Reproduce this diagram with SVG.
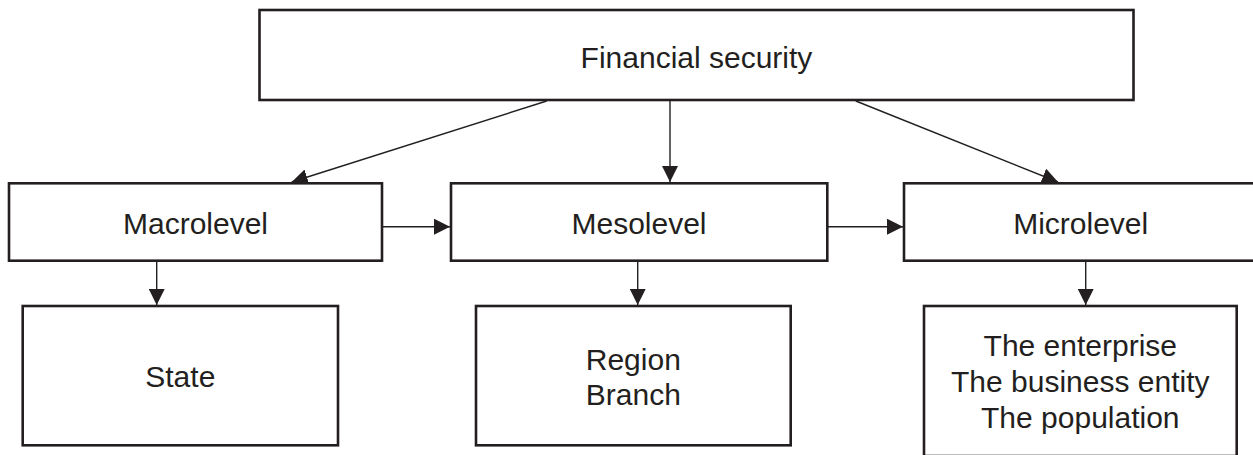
<svg xmlns="http://www.w3.org/2000/svg" width="1253" height="455" viewBox="0 0 1253 455">
  <style>
    .box { fill: #ffffff; stroke: #231f20; stroke-width: 2.6; }
    .lbl { font-family: "Liberation Sans", Arial, sans-serif; font-size: 30px; fill: #231f20; text-anchor: middle; }
    .conn { stroke: #231f20; stroke-width: 1.4; fill: none; marker-end: url(#head); }
  </style>
  <defs>
    <marker id="head" markerUnits="userSpaceOnUse" markerWidth="16" markerHeight="16" refX="16" refY="8" orient="auto">
      <path d="M0,0 L16,8 L0,16 z" fill="#231f20"/>
    </marker>
  </defs>
  <rect width="1253" height="455" fill="#ffffff"/>

  <g id="connectors">
    <line class="conn" x1="546.7" y1="101" x2="291.7" y2="182"/>
    <line class="conn" x1="670" y1="101" x2="670" y2="182"/>
    <line class="conn" x1="855.8" y1="101" x2="1058" y2="182"/>
    <line class="conn" x1="383" y1="226.7" x2="450" y2="226.7"/>
    <line class="conn" x1="828" y1="226.7" x2="903" y2="226.7"/>
    <line class="conn" x1="156.7" y1="262" x2="156.7" y2="305"/>
    <line class="conn" x1="637.7" y1="262" x2="637.7" y2="305"/>
    <line class="conn" x1="1085.7" y1="262" x2="1085.7" y2="305"/>
  </g>

  <g id="financial-security">
    <rect class="box" x="259.5" y="10" width="874" height="90"/>
    <text class="lbl" x="696.5" y="67.7">Financial security</text>
  </g>

  <g id="macrolevel">
    <rect class="box" x="9" y="183.3" width="373" height="77.4"/>
    <text class="lbl" x="195.5" y="234.3">Macrolevel</text>
  </g>

  <g id="mesolevel">
    <rect class="box" x="451" y="183.3" width="376.3" height="77.4"/>
    <text class="lbl" x="639" y="234.3">Mesolevel</text>
  </g>

  <g id="microlevel">
    <rect class="box" x="904" y="183.3" width="354" height="77.4"/>
    <text class="lbl" x="1080.7" y="234.3">Microlevel</text>
  </g>

  <g id="state">
    <rect class="box" x="22.7" y="306" width="315.3" height="139.3"/>
    <text class="lbl" x="180.3" y="387.3">State</text>
  </g>

  <g id="region-branch">
    <rect class="box" x="476" y="306" width="314.7" height="139.3"/>
    <text class="lbl" x="633.3" y="370">Region</text>
    <text class="lbl" x="633.3" y="405">Branch</text>
  </g>

  <g id="enterprise-entity-population">
    <rect class="box" x="924" y="306" width="312.7" height="150"/>
    <text class="lbl" x="1080.3" y="356">The enterprise</text>
    <text class="lbl" x="1080.3" y="392">The business entity</text>
    <text class="lbl" x="1080.3" y="428">The population</text>
  </g>
</svg>
